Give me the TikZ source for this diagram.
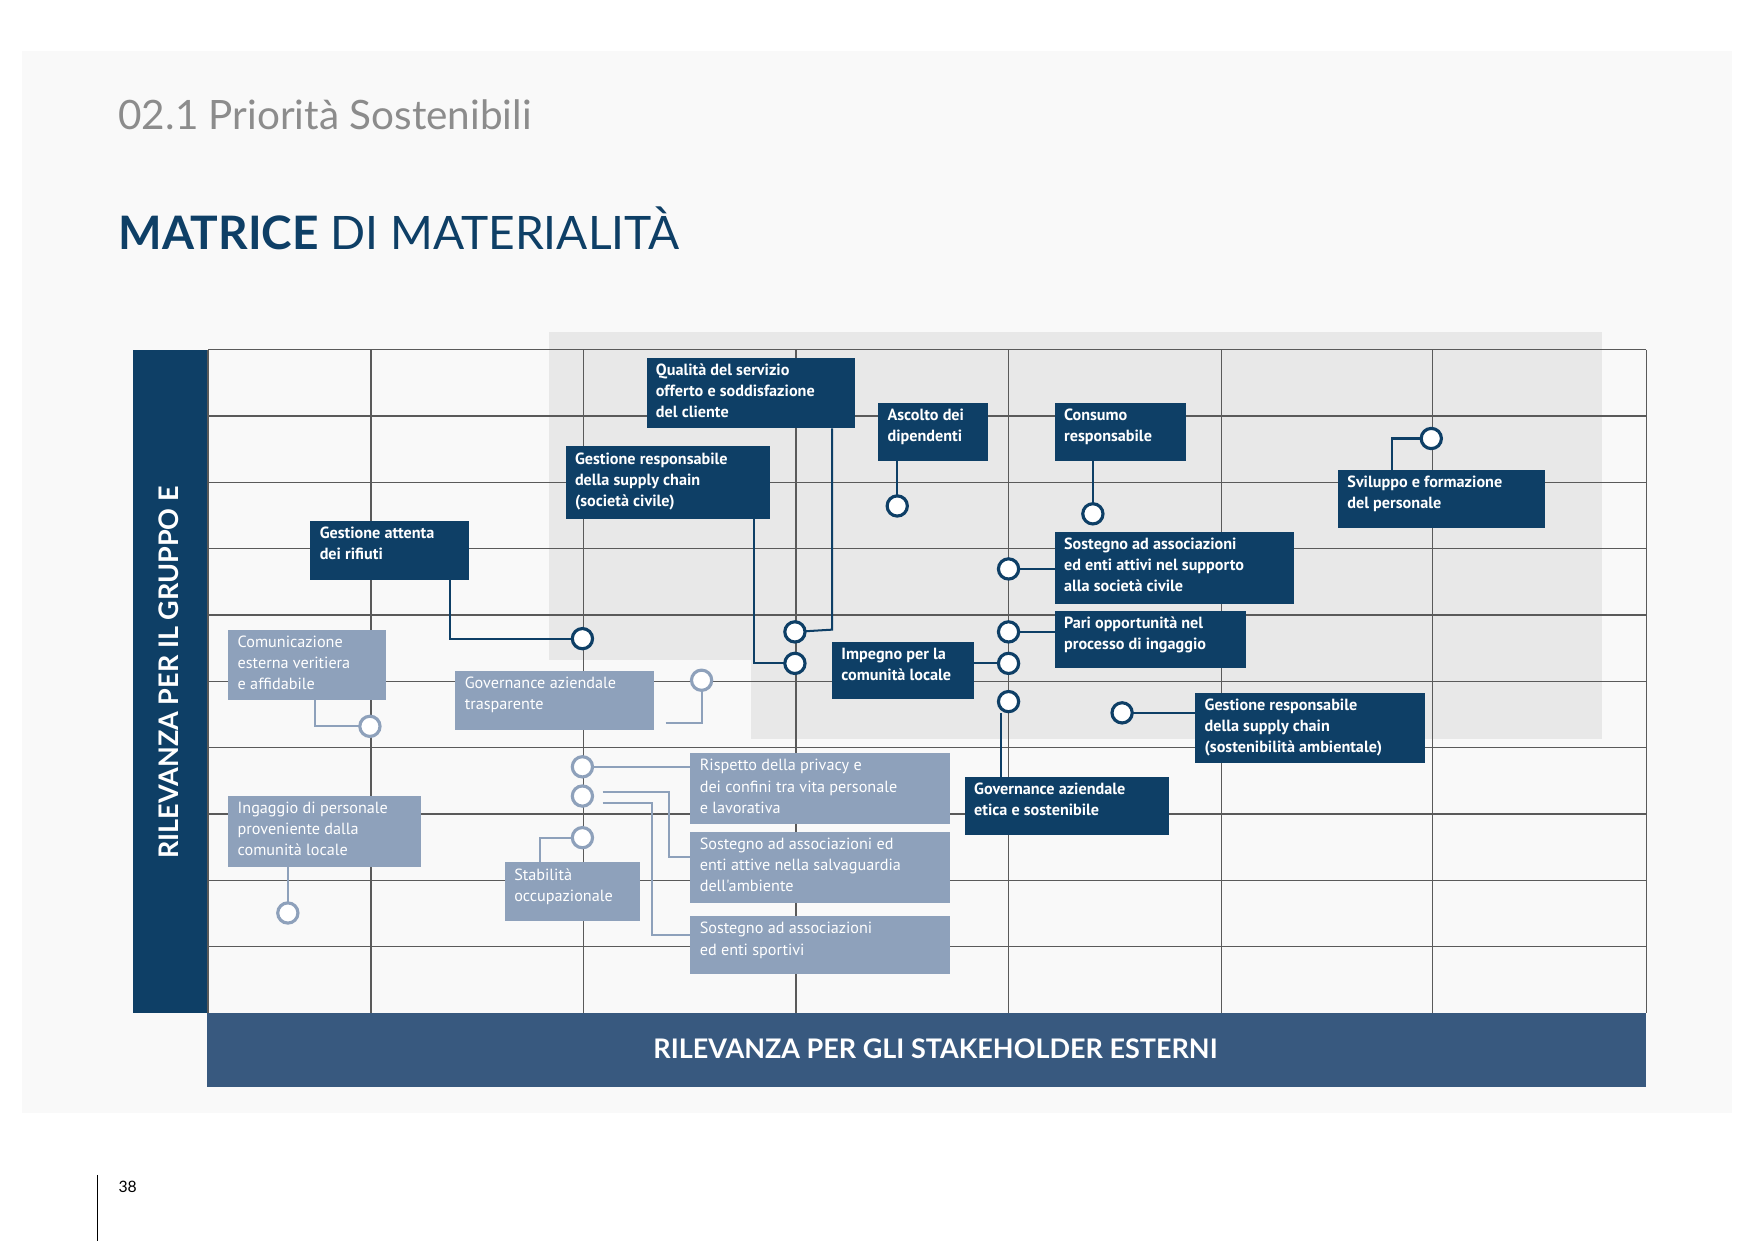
\documentclass[tikz,border=0pt]{standalone}
\usepackage{fontspec}
\setmainfont{Lato}
\newfontfamily\boxfont{PT Sans}
\definecolor{dkb}{HTML}{0E3F66}
\definecolor{ltb}{HTML}{8EA1BB}
\definecolor{botb}{HTML}{38597F}
\definecolor{gridc}{HTML}{5A5A5A}
\definecolor{shadec}{HTML}{E8E8E8}
\definecolor{ttl}{HTML}{8C8C8C}
\definecolor{pagebg}{HTML}{F9F9F9}
\colorlet{lkb}{ltb}
\tikzset{
 dbox/.style={text=white,font=\boxfont\bfseries\fontsize{7.2}{9.4}\selectfont,align=left,inner sep=0pt,anchor=north west},
 lbox/.style={text=white,font=\boxfont\fontsize{7.2}{9.4}\selectfont,align=left,inner sep=0pt,anchor=north west},
 dcirc/.style={circle,draw=dkb,line width=1.4pt,fill=white,minimum size=9pt,inner sep=0pt},
 lcirc/.style={circle,draw=ltb,line width=1.4pt,fill=white,minimum size=9pt,inner sep=0pt},
 dln/.style={draw=dkb,line width=0.9pt},
 lln/.style={draw=ltb,line width=0.9pt},
 gl/.style={draw=gridc,line width=0.5pt}
}
\newcommand{\bx}[7]{%
 \fill[#2kb] (#3,#4) rectangle (#5,#6);
 \node[#2box] (#1) at (#3+8,#4+5) {#7};}
\begin{document}
\begin{tikzpicture}[x=0.5pt,y=-0.5pt]
\useasboundingbox (0,0) rectangle (1560,1104);
\fill[white] (0,0) rectangle (1560,1104);
\fill[pagebg] (20,45) rectangle (1540,990);
\fill[shadec] (488,295) rectangle (1425,587);
\fill[shadec] (668,587) rectangle (1425,657);
\foreach \x in {185,330,519,708,897,1086,1274,1464} \draw[gl] (\x,311) -- (\x,901);
\foreach \y in {311,370,429,488,547,606,665,724,783,842} \draw[gl] (185,\y) -- (1464,\y);
\fill[dkb] (118,311) rectangle (184,901);
\fill[botb] (184,901) rectangle (1464,967);
\node[text=white,font=\bfseries\fontsize{12}{14}\selectfont,rotate=90] (ylab) at (150,598) {RILEVANZA PER IL GRUPPO E};
\node[text=white,font=\bfseries\fontsize{12}{14}\selectfont] (xlab) at (832,933) {RILEVANZA PER GLI STAKEHOLDER ESTERNI};
\node[anchor=base west,text=ttl,font=\fontsize{18}{20}\selectfont,inner sep=0pt] (t1) at (105,115) {02.1 Priorità Sostenibili};
\node[anchor=base west,text=dkb,font=\fontsize{20.5}{24}\selectfont,inner sep=0pt] (t2) at (105,222) {\textbf{MATRICE} DI MATERIALITÀ};
\node[anchor=base west,font=\fontsize{7}{8}\selectfont,inner sep=0pt] (pg) at (105,1061) {38};
\draw[line width=0.6pt] (87,1045) -- (87,1104);
\coordinate (c1) at (518,568); \coordinate (c2) at (707,562); \coordinate (c3) at (707,590);
\coordinate (c4) at (798,450); \coordinate (c5) at (972,457); \coordinate (c6) at (1273,390);
\coordinate (c7) at (897,506); \coordinate (c8) at (897,562); \coordinate (c9) at (897,590);
\coordinate (c10) at (897,624); \coordinate (c11) at (998,634);
\coordinate (l1) at (624,605); \coordinate (l2) at (329,646); \coordinate (l3) at (518,682);
\coordinate (l4) at (518,708); \coordinate (l5) at (518,745); \coordinate (l6) at (256,812);
\draw[dln] (400,516) |- (c1);
\draw[dln] (740,381) -- (740,560) -- (c2);
\draw[dln] (671,462) |- (c3);
\draw[dln] (798,410) -- (c4);
\draw[dln] (972,410) -- (c5);
\draw[dln] (1238,418) |- (c6);
\draw[dln] (c7) -- (938,506);
\draw[dln] (c8) -- (938,562);
\draw[dln] (866,590) -- (c9);
\draw[dln] (890,691) -- (890,634);
\draw[dln] (c11) -- (1063,634);
\draw[lln] (592,643) -- (624,643) -- (l1);
\draw[lln] (280,623) |- (l2);
\draw[lln] (l3) -- (614,682);
\draw[lln] (536,704) -- (595,704) |- (614,762);
\draw[lln] (536,714) -- (580,714) |- (614,832);
\draw[lln] (480,767) |- (l5);
\draw[lln] (256,771) -- (l6);
\bx{q}{d}{575}{318}{760}{381}{Qualità del servizio\\offerto e soddisfazione\\del cliente}
\bx{asc}{d}{781}{358}{879}{410}{Ascolto dei\\dipendenti}
\bx{cons}{d}{938}{358}{1055}{410}{Consumo\\responsabile}
\bx{svil}{d}{1190}{418}{1374}{470}{Sviluppo e formazione\\del personale}
\bx{grsc}{d}{503}{397}{685}{462}{Gestione responsabile\\della supply chain\\(società civile)}
\bx{grif}{d}{276}{463}{417}{516}{Gestione attenta\\dei rifiuti}
\bx{sostc}{d}{938}{473}{1151}{537}{Sostegno ad associazioni\\ed enti attivi nel supporto\\alla società civile}
\bx{pari}{d}{938}{543}{1108}{594}{Pari opportunità nel\\processo di ingaggio}
\bx{imp}{d}{740}{571}{866}{622}{Impegno per la\\comunità locale}
\bx{gramb}{d}{1063}{616}{1267}{679}{Gestione responsabile\\della supply chain\\(sostenibilità ambientale)}
\bx{gov}{d}{858}{691}{1040}{743}{Governance aziendale\\etica e sostenibile}
\bx{com}{l}{203}{560}{343}{623}{Comunicazione\\esterna veritiera\\e affidabile}
\bx{govt}{l}{405}{597}{582}{649}{Governance aziendale\\trasparente}
\bx{ing}{l}{203}{708}{374}{771}{Ingaggio di personale\\proveniente dalla\\comunità locale}
\bx{stab}{l}{449}{767}{569}{819}{Stabilità\\occupazionale}
\bx{risp}{l}{614}{670}{845}{733}{Rispetto della privacy e\\dei confini tra vita personale\\e lavorativa}
\bx{sosta}{l}{614}{740}{845}{803}{Sostegno ad associazioni ed\\enti attive nella salvaguardia\\dell'ambiente}
\bx{sosts}{l}{614}{815}{845}{866}{Sostegno ad associazioni\\ed enti sportivi}
\foreach \c in {c1,c2,c3,c4,c5,c6,c7,c8,c9,c10,c11} \node[dcirc] at (\c) {};
\foreach \c in {l1,l2,l3,l4,l5,l6} \node[lcirc] at (\c) {};
\end{tikzpicture}
\end{document}
